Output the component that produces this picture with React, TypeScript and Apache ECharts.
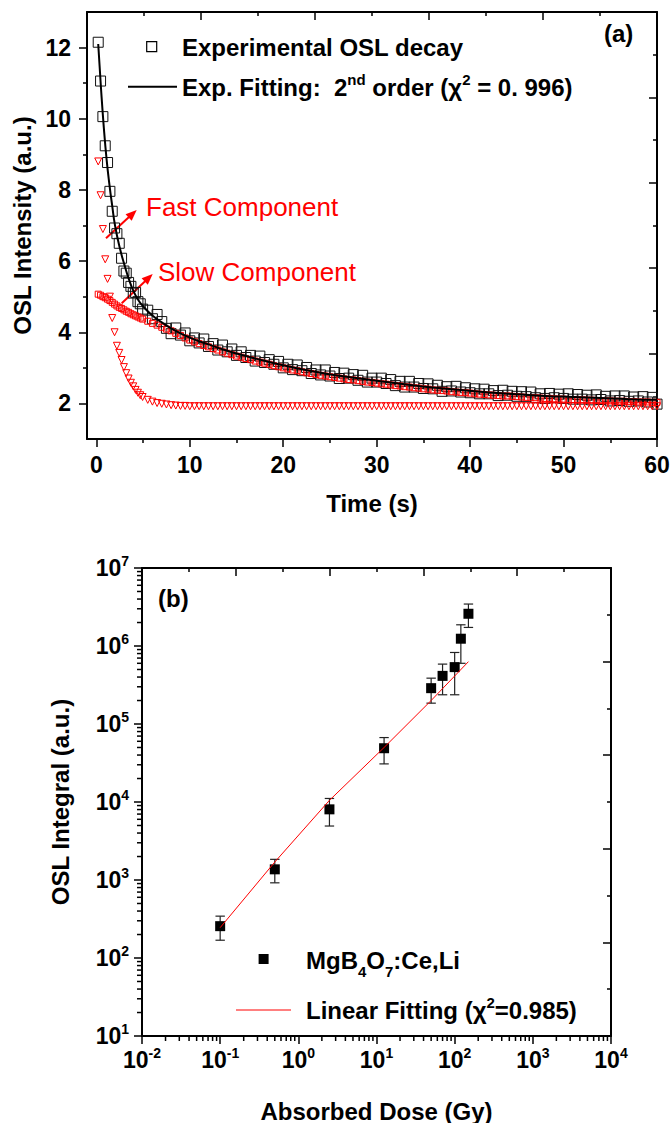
import React, { useEffect, useRef } from 'react';
import * as echarts from 'echarts';

const FONT = '"Liberation Sans", Arial, Helvetica, sans-serif';

// ---------- Panel (a): OSL decay ----------
const T = [
  0.2, 0.45, 0.7, 0.95, 1.2, 1.45, 1.7, 1.95, 2.2, 2.45, 2.7, 2.95, 3.2, 3.45, 3.7, 3.95, 4.2, 4.45, 4.7, 4.95,
  5.5, 6, 6.5, 7, 7.5, 8, 8.5, 9, 9.5, 10,
  10.5, 11, 11.5, 12, 12.5, 13, 13.5, 14, 14.5, 15,
  15.5, 16, 16.5, 17, 17.5, 18, 18.5, 19, 19.5, 20,
  20.5, 21, 21.5, 22, 22.5, 23, 23.5, 24, 24.5, 25,
  25.5, 26, 26.5, 27, 27.5, 28, 28.5, 29, 29.5, 30,
  30.5, 31, 31.5, 32, 32.5, 33, 33.5, 34, 34.5, 35,
  35.5, 36, 36.5, 37, 37.5, 38, 38.5, 39, 39.5, 40,
  40.5, 41, 41.5, 42, 42.5, 43, 43.5, 44, 44.5, 45,
  45.5, 46, 46.5, 47, 47.5, 48, 48.5, 49, 49.5, 50,
  50.5, 51, 51.5, 52, 52.5, 53, 53.5, 54, 54.5, 55,
  55.5, 56, 56.5, 57, 57.5, 58, 58.5, 59, 59.5, 60,
];

const EXPERIMENTAL = [
  12.15, 11.06, 10.06, 9.24, 8.77, 7.96, 7.4, 6.93, 6.77, 6.5, 6.08, 5.72, 5.66, 5.4, 5.29, 5.1, 5.12, 4.86, 4.8, 4.65,
  4.62, 4.38, 4.5, 4.3, 4.11, 3.96, 4.12, 3.92, 3.98, 3.76,
  3.84, 3.7, 3.81, 3.6, 3.68, 3.5, 3.64, 3.45, 3.53, 3.35,
  3.45, 3.29, 3.35, 3.19, 3.33, 3.15, 3.23, 3.1, 3.18, 3.0,
  3.1, 2.95, 3.08, 2.92, 3.01, 2.84, 2.94, 2.8, 2.94, 2.77,
  2.87, 2.7, 2.85, 2.71, 2.81, 2.65, 2.79, 2.6, 2.71, 2.6,
  2.71, 2.56, 2.67, 2.5, 2.62, 2.46, 2.62, 2.46, 2.56, 2.42,
  2.55, 2.41, 2.51, 2.34, 2.47, 2.35, 2.48, 2.32, 2.44, 2.3,
  2.41, 2.27, 2.4, 2.27, 2.36, 2.22, 2.37, 2.23, 2.34, 2.2,
  2.33, 2.19, 2.32, 2.16, 2.27, 2.14, 2.28, 2.16, 2.26, 2.14,
  2.27, 2.12, 2.25, 2.12, 2.23, 2.1, 2.24, 2.11, 2.2, 2.07,
  2.21, 2.08, 2.21, 2.06, 2.18, 2.07, 2.19, 2.04, 2.17, 1.98,
];

const FAST_COMPONENT = [
  8.8, 7.85, 6.9, 6.05, 5.5, 5.0, 4.4, 4.0, 3.62, 3.42, 3.22, 3.02, 2.85, 2.7, 2.58, 2.48, 2.38, 2.3, 2.23, 2.18,
  2.1, 2.05, 2.01, 1.99, 1.97, 1.95, 1.94, 1.93, 1.93, 1.92,
  1.92, 1.92, 1.92, 1.92, 1.92, 1.92, 1.92, 1.92, 1.92, 1.92,
  1.92, 1.92, 1.92, 1.92, 1.92, 1.92, 1.92, 1.92, 1.92, 1.92,
  1.92, 1.92, 1.92, 1.92, 1.92, 1.92, 1.92, 1.92, 1.92, 1.92,
  1.92, 1.92, 1.92, 1.92, 1.92, 1.92, 1.92, 1.92, 1.92, 1.92,
  1.92, 1.92, 1.92, 1.92, 1.92, 1.92, 1.92, 1.92, 1.92, 1.92,
  1.92, 1.92, 1.92, 1.92, 1.92, 1.92, 1.92, 1.92, 1.92, 1.92,
  1.92, 1.92, 1.92, 1.92, 1.92, 1.92, 1.92, 1.92, 1.92, 1.92,
  1.92, 1.92, 1.92, 1.92, 1.92, 1.92, 1.92, 1.92, 1.92, 1.92,
  1.92, 1.92, 1.92, 1.92, 1.92, 1.92, 1.92, 1.92, 1.92, 1.92,
  1.92, 1.92, 1.92, 1.92, 1.92, 1.92, 1.92, 1.92, 1.92, 1.92,
];

const SLOW_COMPONENT = [
  5.07, 5.04, 5.0, 4.97, 4.93, 4.89, 4.84, 4.79, 4.74, 4.7, 4.67, 4.63, 4.59, 4.56, 4.52, 4.49, 4.46, 4.43, 4.4, 4.37,
  4.31, 4.25, 4.2, 4.14, 4.09, 4.04, 3.97, 3.91, 3.84, 3.78,
  3.73, 3.68, 3.63, 3.59, 3.54, 3.5, 3.45, 3.41, 3.37, 3.33,
  3.3, 3.26, 3.23, 3.19, 3.16, 3.13, 3.1, 3.06, 3.03, 3.0,
  2.97, 2.94, 2.92, 2.89, 2.86, 2.84, 2.81, 2.79, 2.77, 2.75,
  2.73, 2.71, 2.69, 2.67, 2.66, 2.64, 2.62, 2.6, 2.59, 2.57,
  2.55, 2.54, 2.52, 2.5, 2.49, 2.47, 2.46, 2.44, 2.43, 2.41,
  2.4, 2.38, 2.37, 2.36, 2.35, 2.33, 2.32, 2.31, 2.3, 2.29,
  2.27, 2.26, 2.25, 2.24, 2.23, 2.22, 2.21, 2.21, 2.2, 2.19,
  2.18, 2.17, 2.16, 2.16, 2.15, 2.14, 2.14, 2.13, 2.12, 2.12,
  2.11, 2.11, 2.1, 2.1, 2.09, 2.09, 2.08, 2.08, 2.07, 2.07,
  2.06, 2.06, 2.06, 2.05, 2.05, 2.04, 2.04, 2.04, 2.03, 2.03,
];

const FIT_T = [0.2, 0.5, 0.8, 1.1, 1.4, 1.7, 2.0, 2.5, 3, 3.5, 4, 4.5, 5, 6, 7, 8, 10, 12, 14, 16, 18, 20, 22, 24, 26, 28, 30, 33, 36, 39, 42, 45, 48, 51, 54, 57, 60];
const FIT_VALUES = [12.1, 10.85, 9.75, 8.85, 8.15, 7.55, 7.0, 6.38, 5.9, 5.48, 5.14, 4.9, 4.73, 4.47, 4.28, 4.11, 3.85, 3.66, 3.48, 3.33, 3.2, 3.07, 2.96, 2.86, 2.78, 2.71, 2.64, 2.54, 2.45, 2.38, 2.31, 2.26, 2.21, 2.18, 2.15, 2.12, 2.1];

const TIME_MAJOR = [0, 10, 20, 30, 40, 50, 60];
const TIME_MINOR = [5, 15, 25, 35, 45, 55];
const INT_MAJOR = [2, 4, 6, 8, 10, 12];
const INT_MINOR = [3, 5, 7, 9, 11];

// ---------- Panel (b): dose response ----------
const DOSE = [0.1, 0.5, 2.5, 12.5, 50, 70, 100, 120, 150];
const OSL_INTEGRAL = [256, 1370, 8050, 48900, 288000, 414000, 536000, 1240000, 2590000];
const ERR_HIGH = [344, 1840, 11100, 67000, 387000, 586000, 826000, 1870000, 3450000];
const ERR_LOW = [169, 920, 4920, 30800, 185000, 237000, 237000, 600000, 1730000];
const FIT_DOSE = [0.1, 0.5, 2.5, 12.5, 50, 150];
const FIT_OSL = [245, 1700, 10500, 50000, 200000, 630000];

const LOG_MULTS = [2, 3, 4, 5, 6, 7, 8, 9];
const X_DECADES = [0.01, 0.1, 1, 10, 100, 1000];
const Y_DECADES = [10, 100, 1000, 10000, 100000, 1000000];

const AXIS_LINE = { show: true, onZero: false, lineStyle: { color: '#000', width: 2 } };
const NO_LINE = { show: false, onZero: false };
const TICK_STYLE = { color: '#000', width: 1.5 };
const LABEL = { fontFamily: FONT, fontWeight: 'bold' as const, fontSize: 23, color: '#000' };
const NAME_STYLE = { fontFamily: FONT, fontWeight: 'bold' as const, fontSize: 24, color: '#000' };
const LOG_RICH = {
  b: { fontFamily: FONT, fontWeight: 'bold', fontSize: 23, color: '#000' },
  s: { fontFamily: FONT, fontWeight: 'bold', fontSize: 14, color: '#000', padding: [0, 0, 14, 0] },
};
const logFormatter = (v: number) => '{b|10}{s|' + Math.round(Math.log10(v)) + '}';

function oppositeAxis(gridIndex: number, position: string) {
  return {
    type: 'value', gridIndex, position, min: 0, max: 10, interval: 2,
    axisLine: AXIS_LINE,
    axisTick: { show: true, inside: true, length: 8, lineStyle: TICK_STYLE },
    minorTick: { show: true, splitNumber: 2, length: 4, lineStyle: TICK_STYLE },
    axisLabel: { show: false }, splitLine: { show: false }, silent: true,
  };
}

function arrowGraphics(tail: number[], tip: number[]) {
  const dx = tip[0] - tail[0];
  const dy = tip[1] - tail[1];
  const len = Math.sqrt(dx * dx + dy * dy);
  const ux = dx / len, uy = dy / len;
  const px = -uy, py = ux;
  const hl = 11, hw = 4.5;
  const bx = tip[0] - ux * hl, by = tip[1] - uy * hl;
  return [
    { type: 'line', shape: { x1: tail[0], y1: tail[1], x2: bx + ux * 2, y2: by + uy * 2 }, style: { stroke: '#ff0000', lineWidth: 2 } },
    { type: 'polygon', shape: { points: [[tip[0], tip[1]], [bx + px * hw, by + py * hw], [bx - px * hw, by - py * hw]] }, style: { fill: '#ff0000' } },
  ];
}

export default function App() {
  const ref = useRef<HTMLDivElement>(null);

  useEffect(() => {
    const chart = echarts.init(ref.current!, null, { renderer: 'svg' });

    const minorTickData: number[][] = [];
    X_DECADES.forEach((d) => LOG_MULTS.forEach((m) => minorTickData.push([d * m, 10, 1])));
    Y_DECADES.forEach((d) => LOG_MULTS.forEach((m) => minorTickData.push([0.01, d * m, 0])));

    const supRich = {
      b: { fontFamily: FONT, fontWeight: 'bold', fontSize: 24, color: '#000' },
      s: { fontFamily: FONT, fontWeight: 'bold', fontSize: 15, color: '#000', padding: [0, 0, 16, 0] },
      u: { fontFamily: FONT, fontWeight: 'bold', fontSize: 15, color: '#000', padding: [23, 0, 0, 0] },
    };

    const option: any = {
      animation: false,
      backgroundColor: '#fff',
      grid: [
        { left: 87, right: 15, top: 12, height: 427, containLabel: false, outerBoundsMode: 'none' },
        { left: 142, right: 61, top: 568, height: 468, containLabel: false, outerBoundsMode: 'none' },
      ],
      xAxis: [
        {
          type: 'value', gridIndex: 0, position: 'bottom', min: -1, max: 60,
          name: 'Time (s)', nameLocation: 'middle', nameGap: 52, nameTextStyle: NAME_STYLE,
          axisLine: AXIS_LINE,
          axisTick: { show: true, inside: false, length: 8, lineStyle: TICK_STYLE, customValues: TIME_MAJOR },
          axisLabel: { ...LABEL, margin: 14, customValues: TIME_MAJOR },
          splitLine: { show: false },
        },
        {
          type: 'value', gridIndex: 0, position: 'bottom', min: -1, max: 60,
          axisLine: NO_LINE,
          axisTick: { show: true, inside: false, length: 4, lineStyle: TICK_STYLE, customValues: TIME_MINOR },
          axisLabel: { show: false }, splitLine: { show: false },
        },
        oppositeAxis(0, 'top'),
        {
          type: 'log', logBase: 10, gridIndex: 1, position: 'bottom', min: 0.01, max: 10000,
          name: 'Absorbed Dose (Gy)', nameLocation: 'middle', nameGap: 63, nameTextStyle: NAME_STYLE,
          axisLine: AXIS_LINE,
          axisTick: { show: true, inside: false, length: 8, lineStyle: TICK_STYLE },
          axisLabel: { formatter: logFormatter, rich: LOG_RICH, margin: 10 },
          splitLine: { show: false }, minorTick: { show: false },
        },
        oppositeAxis(1, 'top'),
      ],
      yAxis: [
        {
          type: 'value', gridIndex: 0, position: 'left', min: 1, max: 13,
          name: 'OSL Intensity (a.u.)', nameLocation: 'middle', nameGap: 53, nameTextStyle: NAME_STYLE,
          axisLine: AXIS_LINE,
          axisTick: { show: true, inside: false, length: 8, lineStyle: TICK_STYLE, customValues: INT_MAJOR },
          axisLabel: { ...LABEL, margin: 16, customValues: INT_MAJOR },
          splitLine: { show: false },
        },
        {
          type: 'value', gridIndex: 0, position: 'left', min: 1, max: 13,
          axisLine: NO_LINE,
          axisTick: { show: true, inside: false, length: 4, lineStyle: TICK_STYLE, customValues: INT_MINOR },
          axisLabel: { show: false }, splitLine: { show: false },
        },
        oppositeAxis(0, 'right'),
        {
          type: 'log', logBase: 10, gridIndex: 1, position: 'left', min: 10, max: 10000000,
          name: 'OSL Integral (a.u.)', nameLocation: 'middle', nameGap: 70, nameTextStyle: NAME_STYLE,
          axisLine: AXIS_LINE,
          axisTick: { show: true, inside: false, length: 8, lineStyle: TICK_STYLE },
          axisLabel: { formatter: logFormatter, rich: LOG_RICH, margin: 13 },
          splitLine: { show: false }, minorTick: { show: false },
        },
        oppositeAxis(1, 'right'),
      ],
      series: [
        {
          type: 'scatter', name: 'Experimental OSL decay', xAxisIndex: 0, yAxisIndex: 0,
          data: T.map((t, i) => [t, EXPERIMENTAL[i]]),
          symbol: 'rect', symbolSize: 10, silent: true,
          itemStyle: { color: 'rgba(255,255,255,0)', borderColor: '#111', borderWidth: 1, opacity: 1 },
        },
        {
          type: 'scatter', name: 'Fast Component', xAxisIndex: 0, yAxisIndex: 0,
          data: T.map((t, i) => [t, FAST_COMPONENT[i]]),
          symbol: 'triangle', symbolRotate: 180, symbolSize: 7, silent: true,
          itemStyle: { color: 'rgba(255,255,255,0)', borderColor: '#ff0000', borderWidth: 1, opacity: 1 },
        },
        {
          type: 'scatter', name: 'Slow Component', xAxisIndex: 0, yAxisIndex: 0,
          data: T.map((t, i) => [t, SLOW_COMPONENT[i]]),
          symbol: 'rect', symbolSize: 6, silent: true,
          itemStyle: { color: 'rgba(255,255,255,0)', borderColor: '#ff0000', borderWidth: 1, opacity: 1 },
        },
        {
          type: 'line', name: 'Exp. Fitting', xAxisIndex: 0, yAxisIndex: 0,
          data: FIT_T.map((t, i) => [t, FIT_VALUES[i]]),
          smooth: true, showSymbol: false, symbol: 'none', silent: true,
          lineStyle: { color: '#000', width: 2 },
        },
        {
          type: 'custom', name: 'minorTicks', xAxisIndex: 3, yAxisIndex: 3, clip: false, silent: true,
          data: minorTickData, encode: { x: 0, y: 1 },
          renderItem: (params: any, api: any) => {
            const p = api.coord([api.value(0), api.value(1)]);
            const bottom = api.value(2) === 1;
            return {
              type: 'line',
              shape: bottom
                ? { x1: p[0], y1: p[1], x2: p[0], y2: p[1] + 5 }
                : { x1: p[0] - 5, y1: p[1], x2: p[0], y2: p[1] },
              style: { stroke: '#000', lineWidth: 1.5 },
            };
          },
        },
        {
          type: 'line', name: 'Linear Fitting', xAxisIndex: 3, yAxisIndex: 3,
          data: FIT_DOSE.map((d, i) => [d, FIT_OSL[i]]),
          showSymbol: false, symbol: 'none', silent: true,
          lineStyle: { color: '#ff0000', width: 1 },
        },
        {
          type: 'custom', name: 'errors', xAxisIndex: 3, yAxisIndex: 3, silent: true,
          data: DOSE.map((d, i) => [d, ERR_LOW[i], ERR_HIGH[i]]),
          encode: { x: 0, y: [1, 2] },
          renderItem: (params: any, api: any) => {
            const x = api.value(0);
            const lo = api.coord([x, api.value(1)]);
            const hi = api.coord([x, api.value(2)]);
            const w = 4.7;
            const st = { stroke: '#222', lineWidth: 1.2 };
            return {
              type: 'group',
              children: [
                { type: 'line', shape: { x1: lo[0], y1: lo[1], x2: hi[0], y2: hi[1] }, style: st },
                { type: 'line', shape: { x1: lo[0] - w, y1: lo[1], x2: lo[0] + w, y2: lo[1] }, style: st },
                { type: 'line', shape: { x1: hi[0] - w, y1: hi[1], x2: hi[0] + w, y2: hi[1] }, style: st },
              ],
            };
          },
        },
        {
          type: 'scatter', name: 'MgB4O7:Ce,Li', xAxisIndex: 3, yAxisIndex: 3,
          data: DOSE.map((d, i) => [d, OSL_INTEGRAL[i]]),
          symbol: 'rect', symbolSize: 10, silent: true,
          itemStyle: { color: '#000', opacity: 1 },
        },
      ],
      graphic: [
        // panel (a) legend
        { type: 'rect', shape: { x: 146.7, y: 41.7, width: 10, height: 10 }, style: { fill: 'none', stroke: '#000', lineWidth: 1.2 } },
        { type: 'text', x: 182, y: 47, style: { text: 'Experimental OSL decay', fontFamily: FONT, fontWeight: 'bold', fontSize: 24, fill: '#000', verticalAlign: 'middle' } },
        { type: 'line', shape: { x1: 128, y1: 86.7, x2: 177, y2: 86.7 }, style: { stroke: '#000', lineWidth: 2 } },
        {
          type: 'text', x: 182, y: 87,
          style: {
            text: '{b|Exp. Fitting:  2}{s|nd}{b| order (\u03c7}{s|2}{b| = 0. 996)}',
            rich: supRich, verticalAlign: 'middle', fill: '#000',
          },
        },
        { type: 'text', x: 604, y: 33, style: { text: '(a)', fontFamily: FONT, fontWeight: 'bold', fontSize: 24, fill: '#000', verticalAlign: 'middle' } },
        // annotations
        { type: 'text', x: 146, y: 207, style: { text: 'Fast Component', fontFamily: FONT, fontSize: 26, fill: '#ff0000', verticalAlign: 'middle' } },
        { type: 'text', x: 158, y: 272, style: { text: 'Slow Component', fontFamily: FONT, fontSize: 26, fill: '#ff0000', verticalAlign: 'middle' } },
        ...arrowGraphics([106, 238.3], [136.7, 210]),
        ...arrowGraphics([121.7, 303.3], [152.7, 274]),
        // panel (b)
        { type: 'text', x: 158, y: 598, style: { text: '(b)', fontFamily: FONT, fontWeight: 'bold', fontSize: 24, fill: '#000', verticalAlign: 'middle' } },
        { type: 'rect', shape: { x: 258.6, y: 954, width: 10, height: 10 }, style: { fill: '#000' } },
        {
          type: 'text', x: 306, y: 960,
          style: { text: '{b|MgB}{u|4}{b|O}{u|7}{b|:Ce,Li}', rich: supRich, verticalAlign: 'middle', fill: '#000' },
        },
        { type: 'line', shape: { x1: 236, y1: 1010, x2: 291, y2: 1010 }, style: { stroke: '#ff0000', lineWidth: 1 } },
        {
          type: 'text', x: 306, y: 1010,
          style: { text: '{b|Linear Fitting (\u03c7}{s|2}{b|=0.985)}', rich: supRich, verticalAlign: 'middle', fill: '#000' },
        },
      ],
    };

    chart.setOption(option);
    return () => chart.dispose();
  }, []);

  return (
    <div
      ref={ref}
      style={{ position: 'absolute', left: 0, top: 0, width: 672, height: 1123, background: '#fff' }}
    />
  );
}
